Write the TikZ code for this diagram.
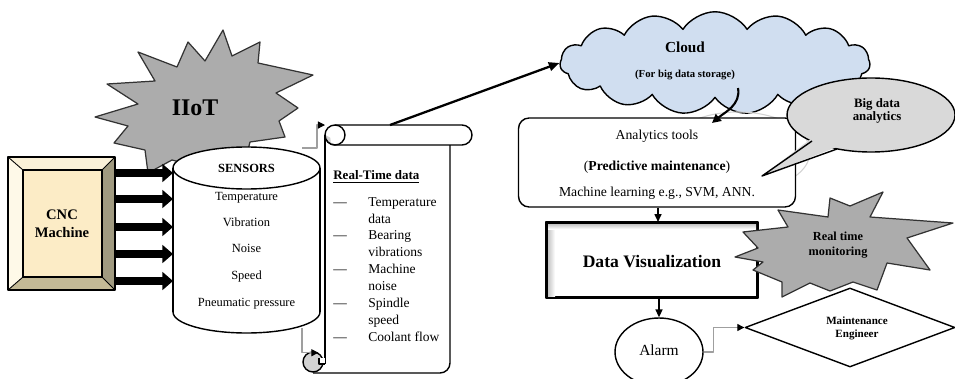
\documentclass[tikz,border=0pt]{standalone}
\usepackage{fontspec}
\setmainfont{Liberation Serif}
\usetikzlibrary{arrows.meta,shapes.geometric,shapes.symbols,calc}
\definecolor{cloudblue}{RGB}{208,222,240}
\definecolor{cncfill}{RGB}{252,236,198}
\definecolor{bevleft}{RGB}{254,249,232}
\definecolor{bevtop}{RGB}{250,241,216}
\definecolor{bevright}{RGB}{160,154,128}
\definecolor{bevbottom}{RGB}{196,186,150}
\definecolor{stargray}{RGB}{172,172,172}
\begin{document}
\begin{tikzpicture}[x=0.02cm,y=-0.02cm,line join=round,
  fnt/.style 2 args={font=\fontsize{#1}{#2}\selectfont},
  ln/.style={line width=0.8pt},
  bigarrow/.style={line width=4.5pt,-{Triangle[length=6pt,width=10pt]}},
  elbow/.style={draw=gray!75, line width=0.6pt, -{Triangle[length=4pt,width=4pt,color=black]}},
  arr/.style={line width=0.8pt, -{Triangle[length=4.5pt,width=4pt]}},
  starshape/.style={draw=black!80, fill=stargray, line width=0.7pt},
  lbl/.style={inner sep=0pt, text height=1.6ex, text depth=0.4ex},
  ghost/.style={inner sep=0pt, outer sep=0pt}]
\useasboundingbox (0,0) rectangle (955,378);
\clip (0,0) rectangle (955,378);

% ---------- IIoT starburst ----------
\draw[starshape] (95,117) -- (138,104) -- (107,84) -- (155,81) -- (138,52) -- (177,67)
  -- (188,42) -- (205,61) -- (223,30) -- (232,56) -- (260,42) -- (258,63) -- (313,75)
  -- (276,93) -- (298,108) -- (279,121) -- (285,137) -- (250,142) -- (245,162)
  -- (215,152) -- (195,166) -- (172,160) -- (148,173) -- (145,150) -- (114,143)
  -- (128,126) -- cycle;
\node[fnt={13.6}{15}] (iiot) at (195,108) {\textbf{IIoT}};

% ---------- CNC machine (bevel) ----------
\node[ghost, minimum width=2.14cm, minimum height=2.66cm] (cnc) at (61.5,223.5) {};
\fill[bevtop] (8,157) -- (115,157) -- (102,170) -- (23,170) -- cycle;
\fill[bevleft] (8,157) -- (23,170) -- (23,277) -- (8,290) -- cycle;
\fill[bevright] (115,157) -- (115,290) -- (102,277) -- (102,170) -- cycle;
\fill[bevbottom] (8,290) -- (115,290) -- (102,277) -- (23,277) -- cycle;
\fill[cncfill] (23,170) rectangle (102,277);
\draw[ln] (8,157) rectangle (115,290) (23,170) rectangle (102,277);
\draw[line width=0.5pt] (8,157) -- (23,170) (115,157) -- (102,170) (8,290) -- (23,277) (115,290) -- (102,277);
\node[fnt={8.3}{10.2}, align=center] at (62,224) {\textbf{CNC}\\\textbf{Machine}};

% ---------- Sensors cylinder ----------
\node[ghost, minimum width=2.94cm, minimum height=3.72cm] (cyl) at (246.5,240) {};
\foreach \yy in {173,199,227,254,281}
  \draw[bigarrow] (cnc.east |- 0,\yy) -- (cyl.west |- 0,\yy);
\draw[ln, fill=white] (246.5,312) ellipse [x radius=73.5, y radius=21];
\fill[white] (173,168) rectangle (320,312);
\draw[ln] (173,168) -- (173,312) (320,168) -- (320,312);
\draw[ln, fill=white] (246.5,168) ellipse [x radius=73.5, y radius=21];
\begin{scope}[fnt={7.1}{8}]
\node[lbl] at (246.5,168) {\textbf{SENSORS}};
\node[lbl] at (246.5,196) {Temperature};
\node[lbl] at (246.5,222) {Vibration};
\node[lbl] at (246.5,248) {Noise};
\node[lbl] at (246.5,275) {Speed};
\node[lbl] at (246.5,302) {Pneumatic pressure};
\end{scope}

% ---------- Real-time data scroll ----------
\node[ghost, minimum width=2.5cm, minimum height=4.96cm] (scroll) at (387.5,249) {};
\fill[white] (325,135) rectangle (450,373);
\draw[ln] (325,135) -- (325,364);
\draw[ln] (450,145) -- (450,363) arc[start angle=0, end angle=90, radius=10] -- (313,373);
\draw[ln, fill=white] (335,125) -- (462,125) arc[start angle=-90, end angle=90, radius=10] -- (335,145);
\draw[ln, fill=white] (335,135) circle [radius=10];
\fill[gray!35] (325.5,135) arc[start angle=180, end angle=90, radius=9.5]
  arc[start angle=90, end angle=200, radius=5] -- cycle;
\draw[ln] (325,135) arc[start angle=180, end angle=90, radius=10];
\node[ln, draw, circle, fill=gray!35, minimum size=0.4cm, inner sep=0] (curl) at (313,362) {};
\fill[white] (319,358) -- (325,358) -- (325,364) -- (319,364) -- cycle;
\draw[line width=0.6pt] (325,364) -- (319,364) -- (319,358);

\node[lbl, fnt={7.4}{9}, anchor=west] at (333,175) {\textbf{\underline{Real-Time data}}};
\begin{scope}[fnt={7.7}{9}]
\foreach \yy in {202,235,269,303,337}
  \node[lbl, anchor=west] at (333,\yy) {—};
\node[lbl, anchor=west] at (368,202) {Temperature};
\node[lbl, anchor=west] at (368,219) {data};
\node[lbl, anchor=west] at (368,235) {Bearing};
\node[lbl, anchor=west] at (368,252) {vibrations};
\node[lbl, anchor=west] at (368,269) {Machine};
\node[lbl, anchor=west] at (368,286) {noise};
\node[lbl, anchor=west] at (368,303) {Spindle};
\node[lbl, anchor=west] at (368,320) {speed};
\node[lbl, anchor=west] at (368,337) {Coolant flow};
\end{scope}

% connectors cylinder -> scroll
\coordinate (c1) at (302,148);
\coordinate (c2) at (302,328);
\draw[elbow] (c1) -- ++(15,0) |- (scroll.north west);
\draw[elbow] (c2) |- (curl.60);

% ---------- Cloud ----------
\node[cloud, cloud puffs=15, cloud puff arc=115, aspect=2.8, draw, ln, fill=cloudblue,
      minimum width=6.2cm, minimum height=2.05cm, inner sep=0] (cloud) at (715,63) {};
\node[fnt={8.7}{10}] at (685,47) {\textbf{Cloud}};
\node[fnt={6.1}{7}] at (685,75) {\textbf{(For big data storage)}};
\coordinate (s1) at (390,125);
\draw[line width=1.3pt, -{Triangle[length=6pt,width=5pt]}] (s1) -- (cloud.west);

% ---------- Analytics ----------
\draw[gray!35, line width=0.6pt] (738,152) ellipse [x radius=72, y radius=40];
\node[draw, ln, fill=white, rounded corners=6pt, minimum width=5.54cm, minimum height=1.78cm] (ana) at (657,162.5) {};
\begin{scope}[fnt={7.8}{9}]
\node[lbl] at (657,135) {Analytics tools};
\node[lbl] at (657,166) {(\textbf{Predictive maintenance})};
\node[lbl] at (657,192) {Machine learning e.g., SVM, ANN.};
\end{scope}
\coordinate (cl1) at (738,88);
\coordinate (an1) at (712,123);
\draw[line width=1.2pt, -{Triangle[length=5pt,width=5pt]}] (cl1) to[out=-80, in=40] (an1);

% ---------- Big data analytics bubble ----------
\draw[ln, fill=gray!30] (871,115) ellipse [x radius=84, y radius=37];
\fill[gray!30] (812,138) -- (762,176) -- (837,147) -- (826,140) -- cycle;
\draw[ln] (812,141) -- (762,176) -- (837,149);
\node[fnt={7.3}{7.7}, align=center] (bda) at (877,111) {\textbf{Big data}\\\textbf{analytics}};

% ---------- Data visualization ----------
\node[draw, line width=1.2pt, fill=white, minimum width=4.2cm, minimum height=1.48cm, inner sep=0] (dv) at (652,260) {};
\shade[left color=gray!45, right color=white] (548,224) rectangle (555,296);
\shade[top color=gray!45, bottom color=white] (548,224) rectangle (756,229);
\draw[line width=1.2pt] (dv.north west) rectangle (dv.south east);
\node[fnt={10}{12}] at (652,262) {\textbf{Data Visualization}};
\draw[arr] (ana.south -| 658,0) -- (dv.north -| 658,0);

% ---------- Alarm ----------
\node[draw, ln, ellipse, minimum width=1.76cm, minimum height=1.36cm, inner sep=0] (alarm) at (659,352) {};
\node[fnt={8.8}{10}] at (659,350) {Alarm};
\draw[arr] (dv.south -| alarm.north) -- (alarm.north);

% ---------- Maintenance engineer ----------
\node[diamond, draw, ln, aspect=2.66, minimum width=4.2cm, minimum height=1.58cm, inner sep=0] (me) at (850,327.5) {};
\node[fnt={6.3}{7.4}, align=center] at (857,328) {\textbf{Maintenance}\\\textbf{Engineer}};
\draw[elbow] (alarm.east) -- ++(10,0) |- (me.west);

% ---------- Real time monitoring starburst ----------
\draw[starshape] (735,257) -- (758,248) -- (743,232) -- (788,227) -- (778,210) -- (828,217)
  -- (830,198) -- (850,206) -- (883,192) -- (870,217) -- (953,223) -- (907,238)
  -- (930,270) -- (887,263) -- (877,290) -- (853,282) -- (830,291) -- (810,283)
  -- (782,297) -- (782,282) -- (753,270) -- (763,262) -- cycle;
\node[fnt={7}{8.6}, align=center] (rtm) at (838,245) {\textbf{Real time}\\\textbf{monitoring}};
\end{tikzpicture}
\end{document}
